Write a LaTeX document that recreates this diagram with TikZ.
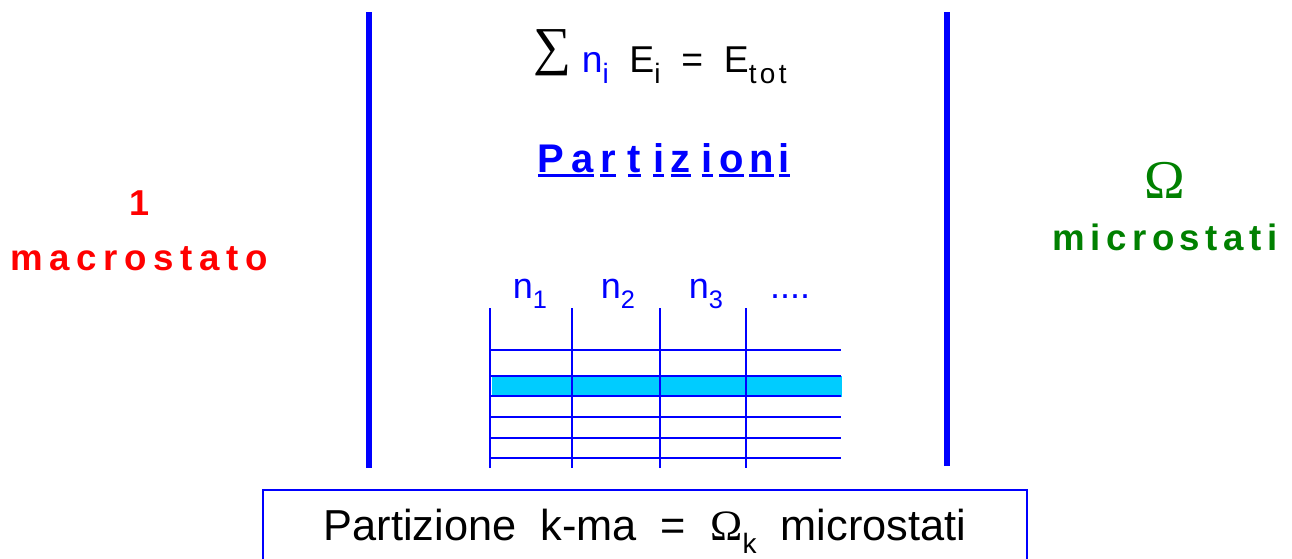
\documentclass[tikz,border=0pt]{standalone}
\usepackage{fontspec}
\setmainfont{Liberation Sans}
\newfontfamily\serifgr{Liberation Serif}
\definecolor{lblue}{RGB}{0,0,255}
\definecolor{dgreen}{RGB}{0,128,0}
\definecolor{hcyan}{RGB}{0,204,255}
\newcommand\ulw[1]{\setbox0\hbox{#1}\rlap{\rule[-3.8pt]{\wd0}{2.6pt}}\box0}
\newcommand\lowsub[2]{\raisebox{-0.3em}{\fontsize{#1}{#1}\selectfont #2}}
\begin{document}
\begin{tikzpicture}[x=0.75pt,y=-0.75pt,
  vbar/.style={draw=lblue,line width=4.2pt},
  gridline/.style={draw=lblue,line width=1.7pt},
  txt/.style={inner sep=0pt,anchor=base}]
\useasboundingbox (0,0) rectangle (1292,558);
% separators
\coordinate (l1) at (369,12); \coordinate (l2) at (369,468);
\coordinate (r1) at (947,12); \coordinate (r2) at (947,466);
\draw[vbar] (l1) -- (l2);
\draw[vbar] (r1) -- (r2);
% sum
\node[txt] (sum) at (660,72) {\fontsize{28pt}{28pt}\selectfont
  \raisebox{6pt}{\serifgr\fontsize{40pt}{40pt}\selectfont ∑}\ \textcolor{lblue}{n\lowsub{21pt}{i}}\ \ E\lowsub{21pt}{i}\ \ =\ \ E\lowsub{21pt}{\addfontfeature{LetterSpace=12}tot}};
% Partizioni
\node[txt,text=lblue] (part) at (664,172) {\fontsize{30pt}{30pt}\selectfont\bfseries
  \ulw{P\kern5pt a}\kern5pt\ulw{r}\kern9pt\ulw{t}\kern9pt\ulw{i}\kern5pt\ulw{z}\kern8pt\ulw{i}\kern5pt\ulw{o}\kern4pt\ulw{n}\kern4pt\ulw{i}};
% left
\node[txt,text=red] (one) at (140,215) {\fontsize{27pt}{27pt}\selectfont\bfseries 1};
\node[txt,text=red] (macro) at (139,270) {\fontsize{27.5pt}{27.5pt}\selectfont\bfseries\addfontfeature{LetterSpace=18}macrostato};
% right
\node[txt,text=dgreen] (omega) at (1165,198) {\fontsize{41pt}{41pt}\selectfont\serifgr Ω};
\node[txt,text=dgreen] (micro) at (1165,250) {\fontsize{27.5pt}{27.5pt}\selectfont\bfseries\addfontfeature{LetterSpace=15}microstati};
% table
\coordinate (v1t) at (490,308); \coordinate (v1b) at (490,468);
\coordinate (v2t) at (572,308); \coordinate (v2b) at (572,468);
\coordinate (v3t) at (660,308); \coordinate (v3b) at (660,468);
\coordinate (v4t) at (746,308); \coordinate (v4b) at (746,468);
\coordinate (hl1) at (492,376); \coordinate (hl2) at (842,397);
\fill[hcyan] (hl1) rectangle (hl2);
\foreach \y/\n in {350/a,376/b,396/c,417/d,438/e,458/f}{
  \coordinate (h\n l) at (490,\y); \coordinate (h\n r) at (841,\y);
  \draw[gridline] (h\n l) -- (h\n r);
}
\draw[gridline] (v1t) -- (v1b);
\draw[gridline] (v2t) -- (v2b);
\draw[gridline] (v3t) -- (v3b);
\draw[gridline] (v4t) -- (v4b);
\node[txt,text=lblue] (n1) at (530,298) {\fontsize{27pt}{27pt}\selectfont n\lowsub{19pt}{1}};
\node[txt,text=lblue] (n2) at (618,298) {\fontsize{27pt}{27pt}\selectfont n\lowsub{19pt}{2}};
\node[txt,text=lblue] (n3) at (706,298) {\fontsize{27pt}{27pt}\selectfont n\lowsub{19pt}{3}};
\node[txt,text=lblue] (dots) at (790,298) {\fontsize{27pt}{27pt}\selectfont ....};
% bottom box
\coordinate (b1) at (263,560); \coordinate (b2) at (263,490);
\coordinate (b3) at (1027,490); \coordinate (b4) at (1027,560);
\draw[draw=lblue,line width=1.3pt] (b1) -- (b2) -- (b3) -- (b4);
\node[txt] (boxtext) at (645,540) {\fontsize{32.5pt}{32.5pt}\selectfont
  Partizione\ \ k-ma\ \ =\ \ {\serifgr Ω}\lowsub{21pt}{k}\ \ microstati};
\end{tikzpicture}
\end{document}
